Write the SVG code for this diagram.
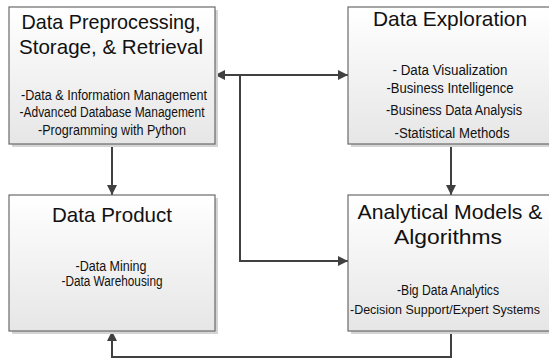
<svg xmlns="http://www.w3.org/2000/svg" width="549" height="360" viewBox="0 0 549 360">
<defs>
<linearGradient id="g" x1="0" y1="0" x2="0" y2="1">
<stop offset="0" stop-color="#ffffff"/>
<stop offset="1" stop-color="#e6e6e6"/>
</linearGradient>
<marker id="ah" viewBox="0 0 10 10" refX="10" refY="5" markerWidth="10" markerHeight="10" markerUnits="userSpaceOnUse" orient="auto-start-reverse">
<path d="M0,0 L10,5 L0,10 z" fill="#404040"/>
</marker>
</defs>
<style>
.sh{fill:#d4d4d4;}
.box{fill:url(#g);stroke:#6a6a6a;stroke-width:1.2;}
.t{font-family:"Liberation Sans",Arial,sans-serif;font-size:21px;fill:#111;text-anchor:middle;}
.s{font-family:"Liberation Sans",Arial,sans-serif;font-size:14px;fill:#111;text-anchor:middle;}
.c{fill:none;stroke:#404040;stroke-width:2;}
</style>
<rect width="549" height="360" fill="#ffffff"/>
<g id="connectors">
<path class="c" d="M215,75 H348" marker-start="url(#ah)" marker-end="url(#ah)"/>
<path class="c" d="M240,75 V261 H348" marker-end="url(#ah)"/>
<path class="c" d="M112,144 V195" marker-end="url(#ah)"/>
<path class="c" d="M451,144 V195" marker-end="url(#ah)"/>
<path class="c" d="M451,331 V357 H112 V331" marker-end="url(#ah)"/>
</g>
<g id="node-preprocessing">
<rect class="sh" x="12" y="10" width="206" height="137"/>
<rect class="box" x="9" y="7" width="206" height="137"/>
<text class="t" x="111" y="29" textLength="179" lengthAdjust="spacingAndGlyphs">Data Preprocessing,</text>
<text class="t" x="111" y="54" textLength="184" lengthAdjust="spacingAndGlyphs">Storage, &amp; Retrieval</text>
<text class="s" x="114" y="100" textLength="186" lengthAdjust="spacingAndGlyphs">-Data &amp; Information Management</text>
<text class="s" x="112" y="117" textLength="185" lengthAdjust="spacingAndGlyphs">-Advanced Database Management</text>
<text class="s" x="112" y="135" textLength="148" lengthAdjust="spacingAndGlyphs">-Programming with Python</text>
</g>
<g id="node-exploration">
<rect class="sh" x="351" y="10" width="206" height="137"/>
<rect class="box" x="348" y="7" width="206" height="137"/>
<text class="t" x="450" y="26" textLength="154" lengthAdjust="spacingAndGlyphs">Data Exploration</text>
<text class="s" x="450" y="75" textLength="115" lengthAdjust="spacingAndGlyphs">- Data Visualization</text>
<text class="s" x="450" y="93" textLength="127" lengthAdjust="spacingAndGlyphs">-Business Intelligence</text>
<text class="s" x="454" y="115" textLength="136" lengthAdjust="spacingAndGlyphs">-Business Data Analysis</text>
<text class="s" x="452" y="138" textLength="115" lengthAdjust="spacingAndGlyphs">-Statistical Methods</text>
</g>
<g id="node-product">
<rect class="sh" x="12" y="198" width="206" height="136"/>
<rect class="box" x="9" y="195" width="206" height="136"/>
<text class="t" x="112" y="222" textLength="120" lengthAdjust="spacingAndGlyphs">Data Product</text>
<text class="s" x="111" y="271" textLength="71" lengthAdjust="spacingAndGlyphs">-Data Mining</text>
<text class="s" x="112" y="286" textLength="101" lengthAdjust="spacingAndGlyphs">-Data Warehousing</text>
</g>
<g id="node-analytical">
<rect class="sh" x="351" y="198" width="206" height="136"/>
<rect class="box" x="348" y="195" width="206" height="136"/>
<text class="t" x="450" y="219" textLength="185" lengthAdjust="spacingAndGlyphs">Analytical Models &amp;</text>
<text class="t" x="448" y="244" textLength="108" lengthAdjust="spacingAndGlyphs">Algorithms</text>
<text class="s" x="448" y="295" textLength="102" lengthAdjust="spacingAndGlyphs">-Big Data Analytics</text>
<text class="s" x="445" y="314" style="font-size:12.5px" textLength="190" lengthAdjust="spacingAndGlyphs">-Decision Support/Expert Systems</text>
</g>
</svg>
